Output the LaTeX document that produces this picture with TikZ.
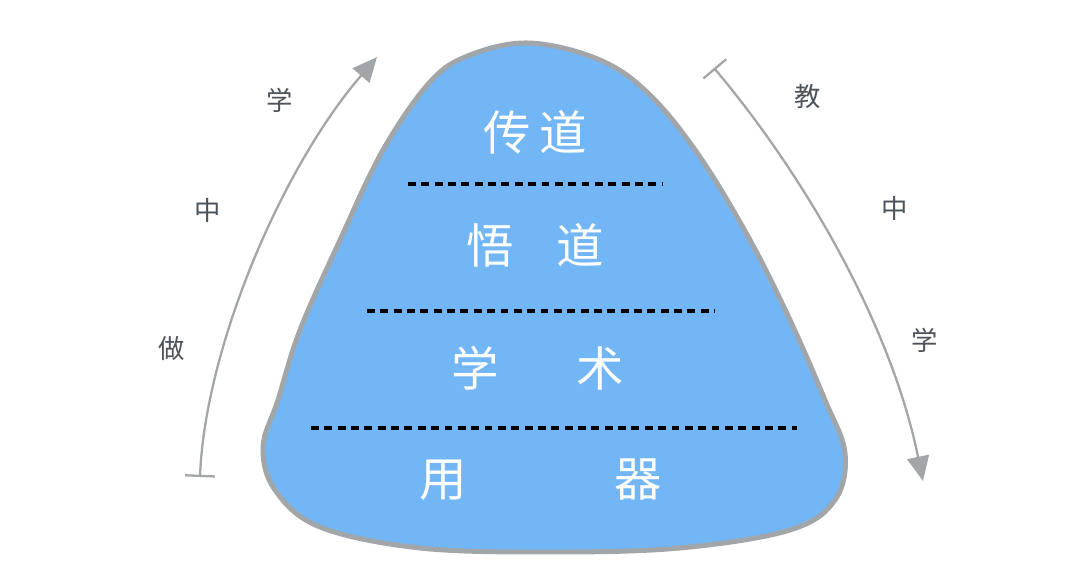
\documentclass[tikz,border=0pt]{standalone}
\usepackage{fontspec}
\newfontfamily\cjk{Noto Sans CJK SC}
\usetikzlibrary{arrows.meta}
\definecolor{skyblue}{HTML}{72B6F6}
\definecolor{rimgray}{HTML}{A2A6A8}
\definecolor{inkgray}{HTML}{4C5259}

\begin{document}
\begin{tikzpicture}[
    x=0.02cm, y=-0.02cm,
    every node/.style={font=\cjk},
    levelText/.style={text=white, inner sep=0pt, font=\cjk\fontsize{27}{27}\selectfont},
    sideText/.style={text=inkgray, inner sep=0pt, font=\cjk\fontsize{15}{15}\selectfont},
    layerLine/.style={line width=2.2pt, dash pattern=on 4.5pt off 3.1pt},
    flowArrow/.style={line width=1.3pt, draw=rimgray, {Bar[width=17pt, line width=1.3pt]}-{Triangle[length=14pt, width=12.5pt, fill=rimgray]}}
]
    % Riquadro dell'immagine
    \useasboundingbox (0, 0) rectangle (1072, 586);

    % Piramide arrotondata
    \draw[line width=2.8pt, draw=rimgray, fill=skyblue] plot[smooth cycle, tension=0.6] coordinates {
        (530, 43) (470, 55) (430, 82) (383, 150) (340, 240) (300, 330)
        (278, 400) (263, 447) (275, 490) (320, 527) (420, 548) (550, 552)
        (680, 548) (790, 530) (835, 500) (845, 453) (825, 400) (790, 320)
        (750, 240) (700, 157) (650, 95) (600, 60)
    };

    % Linee tratteggiate tra i livelli
    \draw[layerLine] (408, 184) -- (662, 184);
    \draw[layerLine] (367, 311) -- (715, 311);
    \draw[layerLine] (311, 428) -- (797, 428);

    % Testi dei livelli
    \node[levelText] (chuanDao) at (535, 132) {传\hspace{5pt}道};
    \node[levelText] (wu) at (490, 245) {悟};
    \node[levelText] (wuDao) at (580, 245) {道};
    \node[levelText] (xue) at (475, 368) {学};
    \node[levelText] (shu) at (600, 368) {术};
    \node[levelText] (yong) at (443, 480) {用};
    \node[levelText] (qi) at (638, 480) {器};

    % Freccia di sinistra: dal basso verso l'alto
    \coordinate (leftTail) at (200, 477);
    \coordinate (leftTip) at (377, 57);
    \draw[flowArrow] (leftTail) .. controls (205, 350) and (280, 170) .. (leftTip);
    \node[sideText] (leftXue) at (280, 100) {学};
    \node[sideText] (leftZhong) at (208, 210) {中};
    \node[sideText] (leftZuo) at (172, 348) {做};

    % Freccia di destra: dall'alto verso il basso
    \coordinate (rightTail) at (714, 68);
    \coordinate (rightTip) at (923, 481);
    \draw[flowArrow] (rightTail) .. controls (800, 170) and (890, 320) .. (rightTip);
    \node[sideText] (rightJiao) at (808, 97) {教};
    \node[sideText] (rightZhong) at (895, 208) {中};
    \node[sideText] (rightXue) at (925, 340) {学};
\end{tikzpicture}
\end{document}
